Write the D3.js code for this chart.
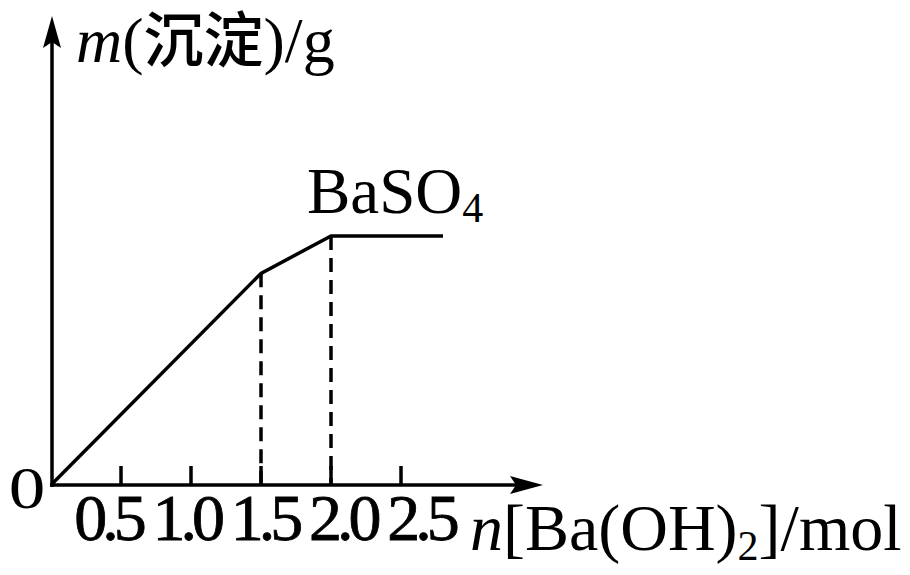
<!DOCTYPE html>
<html><head><meta charset="utf-8">
<script src="https://cdn.jsdelivr.net/npm/d3@7"></script>
<style>html,body{margin:0;padding:0;background:#fff;}svg{display:block;}</style>
</head><body>
<script>
// data
const nValues = [0, 1.5, 2.0, 2.8];      // n[Ba(OH)2] / mol
const mValues = [0, 8.5, 10, 10];        // m(沉淀) (arbitrary units)
const tickValues = [0.5, 1.0, 1.5, 2.0, 2.5];
const tickLabels = ["0.5", "1.0", "1.5", "2.0", "2.5"];
const dashedAt = [1.5, 2.0];

const W = 910, H = 575;
const svg = d3.select("body").append("svg").attr("width", W).attr("height", H);
const x = d3.scaleLinear().domain([0, 2.8]).range([51, 443]);
// tick labels are typeset slightly wider apart than the ticks themselves
const xLab = d3.scaleLinear().domain([0.5, 2.5]).range([106, 419]);
const y = d3.scaleLinear().domain([0, 10]).range([485, 236]);
const serif = "'Liberation Serif','Times New Roman','Noto Sans CJK SC',serif";
const SW = 3.5;

// axes
svg.append("line").attr("x1", 52).attr("y1", 487).attr("x2", 52).attr("y2", 40)
  .attr("stroke", "#000").attr("stroke-width", SW);
svg.append("path").attr("d", "M52,16 L43,48 L52,42 L61,48 Z").attr("fill", "#000");
svg.append("line").attr("x1", 50).attr("y1", 485).attr("x2", 520).attr("y2", 485)
  .attr("stroke", "#000").attr("stroke-width", SW);
svg.append("path").attr("d", "M543,485 L510,476 L516,485 L510,494 Z").attr("fill", "#000");

// ticks
svg.selectAll(".tk").data(tickValues).enter().append("line")
  .attr("x1", d => x(d)).attr("x2", d => x(d)).attr("y1", 485).attr("y2", 466)
  .attr("stroke", "#000").attr("stroke-width", SW);
svg.selectAll(".tl").data(tickValues).enter().append("text")
  .attr("x", d => xLab(d) + 2).attr("y", 540)
  .attr("text-anchor", "middle").attr("font-family", serif).attr("font-size", 66)
  .attr("letter-spacing", -5).attr("stroke", "#000").attr("stroke-width", 0.8)
  .text((d, i) => tickLabels[i]);
svg.append("text").attr("transform", "translate(27,508) scale(1.22,1)")
  .attr("text-anchor", "middle").attr("font-family", serif).attr("font-size", 60).text("0");

// dashed guides
svg.selectAll(".dg").data(dashedAt).enter().append("line")
  .attr("x1", d => x(d)).attr("x2", d => x(d))
  .attr("y1", d => y(mValues[nValues.indexOf(d)])).attr("y2", 485)
  .attr("stroke", "#000").attr("stroke-width", SW).attr("stroke-dasharray", "14,8");

// curve
const pts = nValues.map((v, i) => [v, mValues[i]]);
svg.append("path").datum(pts)
  .attr("d", d3.line().x(d => x(d[0])).y(d => y(d[1])))
  .attr("fill", "none").attr("stroke", "#000").attr("stroke-width", SW);

// labels
const yt = svg.append("text").attr("x", 76).attr("y", 62).attr("font-family", serif).attr("font-size", 64);
yt.append("tspan").attr("font-style", "italic").text("m");
yt.append("tspan").text("(");
yt.append("tspan").attr("font-size", 60).attr("font-weight", 500).text("沉淀");
yt.append("tspan").text(")/g");

const bt = svg.append("text").attr("x", 307).attr("y", 213).attr("font-family", serif).attr("font-size", 65);
bt.append("tspan").text("BaSO");
bt.append("tspan").attr("font-size", 42).attr("dy", 9).text("4");

const xt = svg.append("text").attr("x", 470).attr("y", 550).attr("font-family", serif).attr("font-size", 66);
xt.append("tspan").attr("font-style", "italic").text("n");
xt.append("tspan").text("[Ba(OH)");
xt.append("tspan").attr("font-size", 42).attr("dy", 10).text("2");
xt.append("tspan").attr("dy", -10).text("]/mol");
</script>
</body></html>
